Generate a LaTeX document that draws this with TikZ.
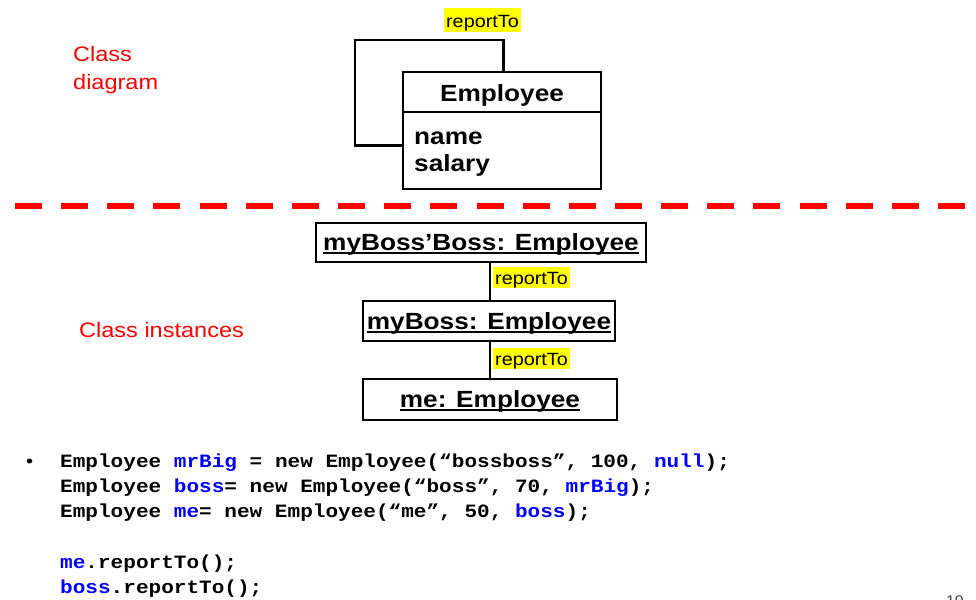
\documentclass[tikz,border=0pt]{standalone}
\usepackage{fontspec}
\setmainfont{Liberation Sans}
\newfontfamily\sfw[FakeStretch=1.12]{Liberation Sans}
\newfontfamily\monow[FakeStretch=1.12]{Liberation Mono}
\usetikzlibrary{calc}
\definecolor{hl}{RGB}{255,255,0}
\definecolor{codeblue}{RGB}{0,0,255}
\definecolor{sepred}{RGB}{255,0,0}
% underline that sits just under the baseline, crossing descenders
\newsavebox\ulbox
\newcommand\ulined[1]{\sbox\ulbox{#1}\rlap{\rule[-3.2pt]{\wd\ulbox}{2pt}}\usebox\ulbox}
\newcommand\kw[1]{\textcolor{codeblue}{#1}}
\begin{document}
\begin{tikzpicture}[x=1pt,y=-1pt,
  box/.style={draw, line width=2.9pt, inner sep=0pt},
  objbox/.style={box, font=\sfw\bfseries\fontsize{23.4}{28}\selectfont,
    text height=16.8pt, text depth=0pt},
  lbl/.style={fill=hl, font=\sfw\fontsize{17.7}{20}\selectfont,
    inner xsep=2pt, inner ysep=0pt, text height=17pt, text depth=4pt},
  link/.style={line width=2.7pt},
  note/.style={text=sepred, font=\sfw\fontsize{21}{28}\selectfont, inner sep=0pt},
  attr/.style={font=\sfw\bfseries\fontsize{23.4}{28}\selectfont, inner sep=0pt},
  code/.style={font=\monow\bfseries\fontsize{18.8}{25}\selectfont, inner sep=0pt, anchor=base west}]
\useasboundingbox (0,0) rectangle (976,599);

% ---------- class diagram ----------
\node[note, align=left, anchor=north west] (capClass) at (73,46.5) {Class\\diagram};

\node[box, minimum width=198pt, minimum height=117pt] (cls) at (502,130.5) {};
\coordinate (divY) at (0,112);
\draw[line width=2.9pt] (cls.west |- divY) -- (cls.east |- divY);
\node[attr, anchor=base] (clsName) at (502,102) {Employee};
\node[attr, anchor=base west] (attrName) at (414,144) {name};
\node[attr, anchor=base west] (attrSalary) at (414,171) {salary};

% self association
\coordinate (loopNW) at (355,40);
\draw[link] ([xshift=102pt]cls.north west) |- (loopNW) |- ([yshift=-75pt]cls.north west);
\node[lbl, text height=19.7pt, text depth=4.3pt] (selfLbl) at (482.5,20) {reportTo};

% ---------- separator ----------
\coordinate (sepL) at (15,206);
\coordinate (sepR) at (965,206);
\draw[sepred, line width=6pt, dash pattern=on 27pt off 19.15pt] (sepL) -- (sepR);

% ---------- object diagram ----------
\node[note, anchor=base west] (capInst) at (79,337) {Class instances};

\node[objbox, minimum width=330pt, minimum height=39pt] (objTop) at (481,242.5) {\ulined{myBoss’Boss: Employee}};
\node[objbox, minimum width=252pt, minimum height=40pt] (objMid) at (489,321) {\ulined{myBoss: Employee}};
\node[objbox, minimum width=254pt, minimum height=41pt] (objMe) at (490,399.5) {\ulined{me: Employee}};

\coordinate (cx) at (490,0);
\draw[link] (objTop.south -| cx) -- (objMid.north -| cx);
\draw[link] (objMid.south -| cx) -- (objMe.north -| cx);
\node[lbl, anchor=west] (lblA) at (493,277.5) {reportTo};
\node[lbl, anchor=west] (lblB) at (493,358.5) {reportTo};

% ---------- code ----------
\node[font=\sfw\fontsize{18}{20}\selectfont, inner sep=0pt, anchor=base west] (bullet) at (26,467.4) {•};
\node[code] (c1) at (60,467.4) {Employee \kw{mrBig} = new Employee(“bossboss”, 100, \kw{null});};
\node[code] (c2) at (60,492.6) {Employee \kw{boss}= new Employee(“boss”, 70, \kw{mrBig});};
\node[code] (c3) at (60,517.8) {Employee \kw{me}= new Employee(“me”, 50, \kw{boss});};
\node[code] (c4) at (60,568.2) {\kw{me}.reportTo();};
\node[code] (c5) at (60,593.4) {\kw{boss}.reportTo();};

% page number
\node[font=\sfw\fontsize{14}{16}\selectfont, text=black!75, inner sep=0pt, anchor=base west] (pageNo) at (946,605) {10};
\end{tikzpicture}
\end{document}
